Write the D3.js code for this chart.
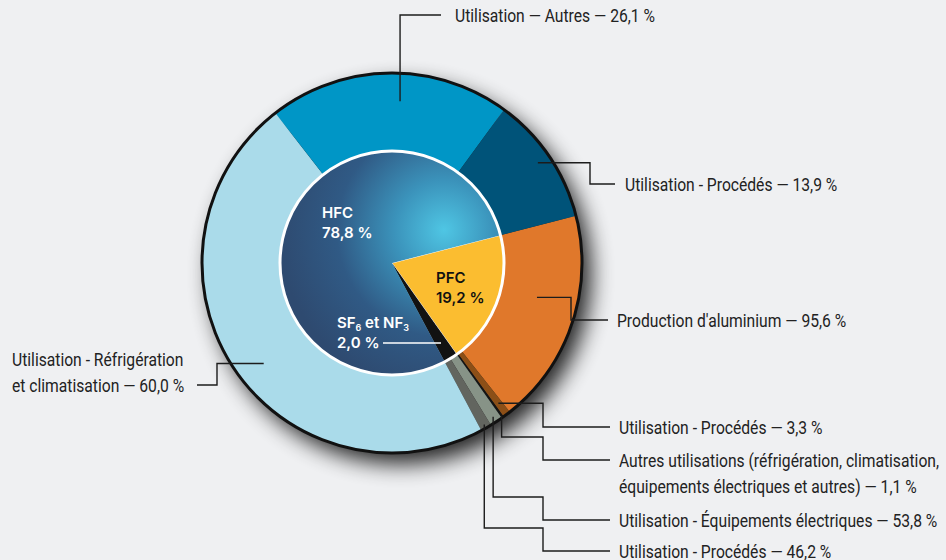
<!DOCTYPE html>
<html>
<head>
<meta charset="utf-8">
<script src="https://cdn.jsdelivr.net/npm/d3@7"></script>
<style>
  html, body { margin: 0; padding: 0; background: #eff0f2; }
  svg { display: block; }
</style>
</head>
<body>
<svg id="chart" width="946" height="560"></svg>
<script>
// inner ring: gas groups (share of total, %)
const groups = ["PFC", "SF6 et NF3", "HFC"];
const groupShares = [19.2, 2.0, 78.8];
const groupColors = ["#fbbd30", "#121212", "url(#hfcGrad)"];

// outer ring: breakdown of each group (% of the group)
const pfcUses = ["Production d'aluminium", "Utilisation - Procédés", "Autres utilisations (réfrigération, climatisation,\néquipements électriques et autres)"];
const pfcShares = [95.6, 3.3, 1.1];
const sf6Uses = ["Utilisation - Équipements électriques", "Utilisation - Procédés"];
const sf6Shares = [53.8, 46.2];
const hfcUses = ["Utilisation - Réfrigération\net climatisation", "Utilisation — Autres", "Utilisation - Procédés"];
const hfcShares = [60.0, 26.1, 13.9];

const outerColors = ["#e0782b", "#8c4f17", "#141414", "#879387", "#62655f", "#aadbea", "#0096c6", "#005379"];

const fr = d3.formatLocale({ decimal: ",", thousands: " ", grouping: [3], currency: ["", " €"] });
const pct = v => fr.format(".1f")(v) + " %";

const outer = [];
[[pfcUses, pfcShares, 0], [sf6Uses, sf6Shares, 1], [hfcUses, hfcShares, 2]].forEach(([names, shares, g]) => {
  names.forEach((n, i) => outer.push({ name: n, share: shares[i], value: groupShares[g] * shares[i] / 100 }));
});

const svg = d3.select("#chart");
const cx = 392, cy = 263, R = 190, r = 112;
const start = 75.6 * Math.PI / 180;

const defs = svg.append("defs");
// gradient coordinates are in the translated group space (pie centre = 0,0)
const grad = defs.append("radialGradient").attr("id", "hfcGrad")
  .attr("gradientUnits", "userSpaceOnUse")
  .attr("cx", 52).attr("cy", -33).attr("r", 165);
grad.append("stop").attr("offset", "0%").attr("stop-color", "#4fc6e4");
grad.append("stop").attr("offset", "30%").attr("stop-color", "#3b93bb");
grad.append("stop").attr("offset", "65%").attr("stop-color", "#305a85");
grad.append("stop").attr("offset", "100%").attr("stop-color", "#2e4a70");

const shadow = defs.append("filter").attr("id", "shadow")
  .attr("x", "-30%").attr("y", "-30%").attr("width", "160%").attr("height", "160%");
shadow.append("feGaussianBlur").attr("stdDeviation", 11);

const pie = d3.pie().sort(null).value(d => d).startAngle(start).endAngle(start + 2 * Math.PI);
const pieOuter = d3.pie().sort(null).value(d => d.value).startAngle(start).endAngle(start + 2 * Math.PI);

const g = svg.append("g").attr("transform", `translate(${cx},${cy})`);

// drop shadow
g.append("circle").attr("cx", 9).attr("cy", 11).attr("r", R)
  .attr("fill", "#000").attr("opacity", 0.85).attr("filter", "url(#shadow)");

const outerArc = d3.arc().innerRadius(0).outerRadius(R);
const outerArcs = pieOuter(outer);
g.selectAll("path.outer").data(outerArcs).join("path")
  .attr("class", "outer")
  .attr("d", outerArc)
  .attr("fill", (d, i) => outerColors[i]);

g.append("circle").attr("r", R).attr("fill", "none").attr("stroke", "#111").attr("stroke-width", 3);

const innerArc = d3.arc().innerRadius(0).outerRadius(r);
g.selectAll("path.inner").data(pie(groupShares)).join("path")
  .attr("class", "inner")
  .attr("d", innerArc)
  .attr("fill", (d, i) => groupColors[i])
  .attr("stroke", "#fff").attr("stroke-width", (d, i) => i === 0 ? 1 : 0);

g.append("circle").attr("r", r).attr("fill", "none").attr("stroke", "#fff").attr("stroke-width", 3);

// inner labels
const inner = [
  { x: -70, y: -45, lines: ["HFC", pct(groupShares[2])], color: "#fff" },
  { x: 44, y: 20, lines: ["PFC", pct(groupShares[0])], color: "#111" },
  { x: -55, y: 65, lines: [null, pct(groupShares[1])], color: "#fff" }
];
inner.forEach(l => {
  const t = g.append("text").attr("x", l.x).attr("y", l.y)
    .attr("fill", l.color).style("font-family", "Inter, Roboto, sans-serif")
    .style("font-weight", 600).style("font-size", "15px");
  l.lines.forEach((s, i) => {
    const ts = t.append("tspan").attr("x", l.x).attr("y", l.y + i * 19.5);
    if (s === null) {
      ts.text("SF");
      ts.append("tspan").attr("dy", 3).style("font-size", "9px").text("6");
      ts.append("tspan").attr("dy", -3).text(" et NF");
      ts.append("tspan").attr("dy", 3).style("font-size", "9px").text("3");
    } else ts.text(s);
  });
});
g.append("line").attr("x1", -9).attr("x2", 49).attr("y1", 80).attr("y2", 80)
  .attr("stroke", "#fff").attr("stroke-width", 1.5);

// leader lines and outer labels (layout per outer slice)
const layout = [
  { frac: 0.42, rad: 149, elbowX: 571, labelY: 320, endX: 608, textX: 617 },
  { frac: 0.5, rad: 176, elbowX: 543, labelY: 427, endX: 610, textX: 619 },
  { frac: 0.5, rad: 188, y1: 437, elbowX: 543, labelY: 460, endX: 610, textX: 619 },
  { frac: 0.5, rad: 184, y1: 497, elbowX: 543, labelY: 520, endX: 610, textX: 619 },
  { frac: 0.5, rad: 186, y1: 528, elbowX: 543, labelY: 551, endX: 610, textX: 619 },
  { frac: 0.47, rad: 163, elbowX: 217, labelY: 385, endX: 197, textX: 12, lastLine: true },
  { frac: 0.55, rad: 162, labelY: 15, endX: 441, textX: 455 },
  { frac: 0.49, rad: 177, elbowX: 590, labelY: 184, endX: 615, textX: 625 }
];

const lineGen = d3.line();
outerArcs.forEach((d, i) => {
  const L = layout[i];
  const a = d.startAngle + (d.endAngle - d.startAngle) * L.frac;
  const sx = cx + L.rad * Math.sin(a), sy = cy - L.rad * Math.cos(a);
  const pts = [[sx, sy]];
  if (L.elbowX === undefined) {
    pts.push([sx, L.labelY]);
  } else {
    if (L.y1 !== undefined) pts.push([sx, L.y1]);
    const yy = L.y1 !== undefined ? L.y1 : sy;
    pts.push([L.elbowX, yy], [L.elbowX, L.labelY]);
  }
  pts.push([L.endX, L.labelY]);
  svg.append("path").attr("d", lineGen(pts))
    .attr("fill", "none").attr("stroke", "#1c1c1c").attr("stroke-width", 1.4);

  const lines = (d.data.name + " — " + pct(d.data.share)).split("\n");
  const y0 = L.lastLine ? L.labelY - (lines.length - 1) * 26 : L.labelY;
  lines.forEach((s, k) => {
    svg.append("text")
      .attr("transform", `translate(${L.textX},${y0 + k * 26 + 6.5}) scale(0.87,1)`)
      .attr("fill", "#222")
      .style("font-family", "Roboto, sans-serif").style("font-size", "18px")
      .text(s);
  });
});
</script>
</body>
</html>
